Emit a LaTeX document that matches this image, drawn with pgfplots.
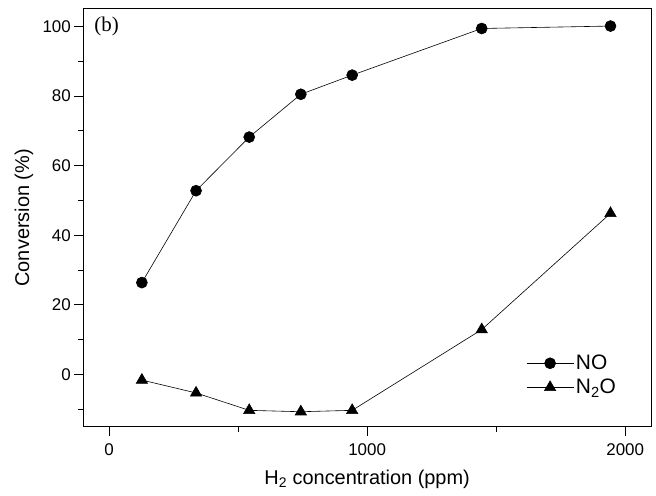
\documentclass[border=0pt]{standalone}
\usepackage{pgfplots}
\pgfplotsset{compat=1.18}
\usepackage{fontspec}
\setmainfont{Liberation Sans}
\newfontfamily\serifb{Liberation Serif}
\begin{document}
\begin{tikzpicture}
\path[use as bounding box] (-83.3bp,-69.3bp) rectangle (572.7bp,426.7bp);
\begin{axis}[
  scale only axis,
  width=567.7bp, height=417.7bp,
  xmin=-100, xmax=2100, ymin=-15, ymax=105,
  axis line style={line width=1pt},
  xtick={0,1000,2000}, minor xtick={500,1500},
  ytick={0,20,40,60,80,100}, minor ytick={-10,10,30,50,70,90},
  tick align=outside,
  xtick pos=bottom, ytick pos=left,
  major tick length=9bp, minor tick length=5bp,
  tick style={line width=0.8pt, black},
  /pgf/number format/assume math mode=true,
  /pgf/number format/1000 sep={},
  ticklabel style={font=\fontsize{17}{20}\selectfont},
  xticklabel shift=4bp,
  xlabel={H\textsubscript{2} concentration (ppm)},
  ylabel={Conversion (\%)},
  label style={font=\fontsize{20}{23}\selectfont},
  xlabel style={at={(axis description cs:0.5,-0.125)}, anchor=center},
  ylabel style={at={(axis description cs:-0.1045,0.5)}, anchor=center},
  legend style={draw=none, fill=none, at={(axis description cs:0.78,0.123)}, anchor=west,
    font=\fontsize{21}{23}\selectfont, row sep=6bp, inner sep=0pt,
    nodes={inner xsep=2bp, inner ysep=1bp}},
  legend cell align=left,
  legend image code/.code={\draw[#1, mark repeat=2, mark phase=2] plot coordinates {(0bp,0bp) (23.5bp,0bp) (47bp,0bp)};},
]
\addplot[black, line width=0.6pt, mark=*, mark size=5.5bp, mark options={solid, fill=black}]
  coordinates {(127,26.4) (337,52.8) (543,68.2) (743,80.5) (942,86.0) (1444,99.4) (1943,100.1)};
\addlegendentry{NO}
\addplot[black, line width=0.6pt, mark=triangle*, mark size=6.5bp, mark options={solid, fill=black}]
  coordinates {(127,-1.6) (337,-5.3) (543,-10.3) (743,-10.7) (942,-10.3) (1444,12.9) (1943,46.3)};
\addlegendentry{N\textsubscript{2}O}
\node[font=\serifb\fontsize{21}{24}\selectfont] at (axis description cs:0.041,0.957) {(b)};
\end{axis}
\end{tikzpicture}
\end{document}
